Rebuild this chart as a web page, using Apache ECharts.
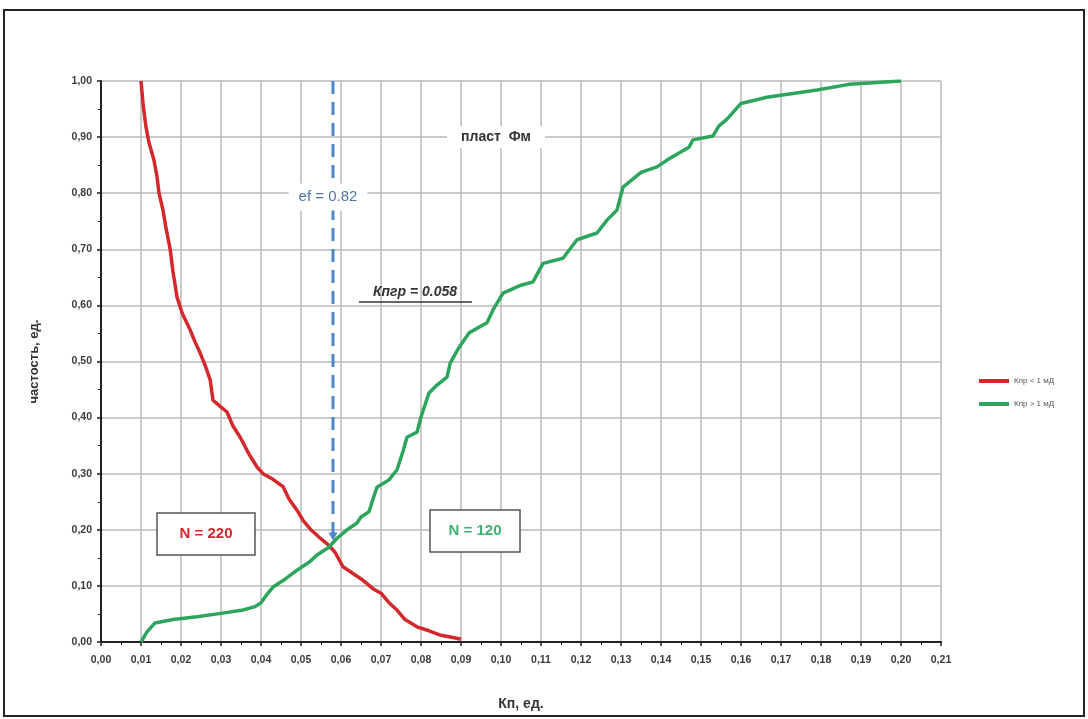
<!DOCTYPE html>
<html>
<head>
<meta charset="utf-8">
<script src="https://cdn.jsdelivr.net/npm/echarts@6/dist/echarts.min.js"></script>
<style>html,body{margin:0;padding:0;background:#fff}#c{width:1088px;height:719px}</style>
</head>
<body>
<div id="c"></div>
<script>
// Kп (x) vs частость (y)
const redName = 'Кпр < 1 мД';
const greenName = 'Кпр > 1 мД';
const redData = [[0.0100,1.000],[0.0105,0.960],[0.0112,0.920],[0.0120,0.890],[0.0132,0.860],[0.0140,0.830],[0.0145,0.800],[0.0155,0.770],[0.0162,0.740],[0.0173,0.700],[0.0180,0.660],[0.0190,0.615],[0.0203,0.586],[0.0223,0.556],[0.0235,0.535],[0.0248,0.515],[0.0262,0.490],[0.0273,0.467],[0.0280,0.431],[0.0298,0.420],[0.0315,0.410],[0.0330,0.385],[0.0348,0.365],[0.0370,0.335],[0.0390,0.312],[0.0405,0.300],[0.0430,0.290],[0.0455,0.277],[0.0470,0.255],[0.0490,0.235],[0.0505,0.217],[0.0525,0.200],[0.0548,0.185],[0.0570,0.172],[0.0585,0.160],[0.0605,0.134],[0.0630,0.122],[0.0655,0.110],[0.0680,0.095],[0.0700,0.087],[0.0720,0.070],[0.0740,0.057],[0.0760,0.040],[0.0790,0.027],[0.0820,0.020],[0.0850,0.012],[0.0880,0.008],[0.0900,0.005]];
const greenData = [[0.0100,0.000],[0.0115,0.018],[0.0135,0.034],[0.0180,0.040],[0.0240,0.045],[0.0300,0.051],[0.0355,0.057],[0.0385,0.063],[0.0400,0.070],[0.0415,0.085],[0.0430,0.098],[0.0460,0.112],[0.0490,0.128],[0.0520,0.142],[0.0540,0.155],[0.0570,0.169],[0.0590,0.185],[0.0615,0.200],[0.0640,0.212],[0.0650,0.223],[0.0670,0.232],[0.0680,0.255],[0.0690,0.276],[0.0720,0.289],[0.0740,0.307],[0.0755,0.340],[0.0765,0.365],[0.0790,0.374],[0.0800,0.401],[0.0820,0.444],[0.0840,0.458],[0.0865,0.472],[0.0873,0.497],[0.0895,0.525],[0.0920,0.551],[0.0965,0.569],[0.0980,0.592],[0.1005,0.622],[0.1050,0.636],[0.1080,0.642],[0.1105,0.675],[0.1155,0.684],[0.1190,0.717],[0.1240,0.729],[0.1265,0.752],[0.1290,0.770],[0.1305,0.811],[0.1350,0.837],[0.1390,0.847],[0.1415,0.859],[0.1470,0.882],[0.1480,0.895],[0.1530,0.902],[0.1545,0.920],[0.1565,0.932],[0.1600,0.960],[0.1665,0.971],[0.1790,0.984],[0.1870,0.994],[0.2000,1.000]];
const cutoffLine = [[0.058,1.0],[0.058,0.188]];
const xMin = 0, xMax = 0.21, xStep = 0.01;
const yMin = 0, yMax = 1, yStep = 0.1;

const chart = echarts.init(document.getElementById('c'));
const fmt = v => v.toFixed(2).replace('.', ',');
const FF = 'Liberation Sans, Arial, sans-serif';
const labelStyle = {fontFamily:FF, fontWeight:'bold', fontSize:10.5, color:'#3a3a3a'};
const cutoffItems = cutoffLine.map((p, i) => i === cutoffLine.length - 1
  ? {value:p, symbol:'triangle', symbolRotate:180, symbolSize:[9,8]}
  : {value:p, symbol:'none'});
chart.setOption({
  animation:false,
  backgroundColor:'#fff',
  grid:{left:101, right:147, top:81, bottom:77, containLabel:false},
  legend:{
    orient:'vertical', left:974, top:372, itemGap:15,
    itemWidth:30, itemHeight:4, icon:'rect',
    textStyle:{fontSize:8, color:'#555', fontFamily:FF},
    data:[redName, greenName]
  },
  xAxis:{
    type:'value', min:xMin, max:xMax, interval:xStep,
    name:'Кп, ед.', nameLocation:'middle', nameGap:55,
    nameTextStyle:{fontFamily:FF, fontWeight:'bold', fontSize:14, color:'#333'},
    axisLine:{show:true, onZero:false, lineStyle:{color:'#222', width:2}},
    axisTick:{show:true, length:4, lineStyle:{color:'#222', width:1.5}},
    minorTick:{show:true, splitNumber:2, length:3, lineStyle:{color:'#222'}},
    axisLabel:Object.assign({margin:13, formatter:fmt}, labelStyle),
    splitLine:{show:true, lineStyle:{color:'#b8b8b8', width:1.5}}
  },
  yAxis:{
    type:'value', min:yMin, max:yMax, interval:yStep,
    name:'частость, ед.', nameLocation:'middle', nameGap:60, nameRotate:90,
    nameTextStyle:{fontFamily:FF, fontWeight:'bold', fontSize:13, color:'#333', padding:[0,0,0,0]},
    axisLine:{show:true, onZero:false, lineStyle:{color:'#222', width:2}},
    axisTick:{show:true, length:4, lineStyle:{color:'#222', width:1.5}},
    minorTick:{show:true, splitNumber:2, length:3, lineStyle:{color:'#222'}},
    axisLabel:Object.assign({margin:9, formatter:fmt}, labelStyle),
    splitLine:{show:true, lineStyle:{color:'#b8b8b8', width:1.5}}
  },
  series:[
    {name:'cutoff', type:'line', data:cutoffItems, showSymbol:true,
     itemStyle:{color:'#4f86c6'}, lineStyle:{color:'#4f86c6', width:3, type:[13,8]}, z:3, silent:true},
    {name:redName, type:'line', data:redData, showSymbol:false, symbol:'none',
     itemStyle:{color:'#d3282c'}, lineStyle:{color:'#d3282c', width:3.5}, z:4},
    {name:greenName, type:'line', data:greenData, showSymbol:false, symbol:'none',
     itemStyle:{color:'#2ea55c'}, lineStyle:{color:'#2ea55c', width:3.5}, z:5}
  ],
  graphic:[
    {type:'rect', shape:{x:4, y:10, width:1080, height:706}, style:{fill:'none', stroke:'#222', lineWidth:2}, z:100},
    {type:'text', x:496, y:137, style:{text:'пласт  Фм', fontFamily:FF, fontWeight:'bold', fontSize:14, fill:'#333', align:'center', verticalAlign:'middle', backgroundColor:'#fff', padding:[4,14]}, z:50},
    {type:'text', x:328, y:197, style:{text:'ef = 0.82', fontFamily:FF, fontSize:15, fill:'#4f74a8', align:'center', verticalAlign:'middle', backgroundColor:'#fff', padding:[6,10]}, z:50},
    {type:'text', x:415, y:292, style:{text:'Кпгр = 0.058', fontFamily:FF, fontWeight:'bold', fontStyle:'italic', fontSize:14, fill:'#333', align:'center', verticalAlign:'middle'}, z:50},
    {type:'line', shape:{x1:359, y1:302, x2:472, y2:302}, style:{stroke:'#333', lineWidth:1.5}, z:50},
    {type:'rect', shape:{x:157, y:513, width:98, height:42}, style:{fill:'#fff', stroke:'#555', lineWidth:1.5}, z:50},
    {type:'text', x:206, y:534, style:{text:'N = 220', fontFamily:FF, fontWeight:'bold', fontSize:15, fill:'#d3282c', align:'center', verticalAlign:'middle'}, z:51},
    {type:'rect', shape:{x:430, y:510, width:90, height:42}, style:{fill:'#fff', stroke:'#555', lineWidth:1.5}, z:50},
    {type:'text', x:475, y:531, style:{text:'N = 120', fontFamily:FF, fontWeight:'bold', fontSize:15, fill:'#3cb371', align:'center', verticalAlign:'middle'}, z:51}
  ]
});
</script>
</body>
</html>
